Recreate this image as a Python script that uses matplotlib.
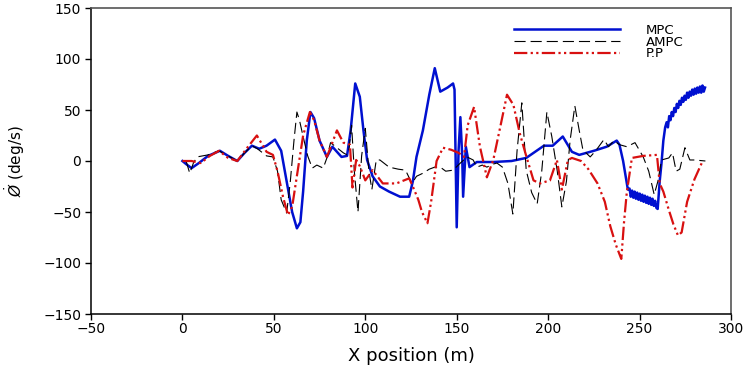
import numpy as np
import matplotlib.pyplot as plt

# MPC (blue solid)
mpc_x = [0, 2, 5, 9, 14, 20.5, 25, 30, 34, 38, 42, 46, 50.6, 54, 57, 60, 62.6, 64.5, 66, 68, 70, 72,
         75, 79, 82, 85, 87, 90, 92, 94.5, 97, 99, 101, 104, 108, 113, 119, 124, 126, 128, 131.5, 135,
         138, 141, 145, 148, 148.8, 150, 151, 152, 153, 153.5, 155, 157, 161, 170, 180, 188, 192, 197.7,
         202.5, 208, 213, 217, 225, 232, 237.5, 239, 241, 243.6,
         244.5, 245.2, 245.9, 246.6, 247.3, 248.0, 248.7, 249.4, 250.1, 250.8, 251.5, 252.2, 252.9,
         253.6, 254.3, 255.0, 255.7, 256.4, 257.1, 257.8, 258.5, 259.2, 259.9,
         261, 262, 263, 264,
         264.8, 265.5, 266.2, 266.9, 267.6, 268.3, 269.0, 269.7, 270.4, 271.1, 271.8, 272.5, 273.2,
         273.9, 274.6, 275.3, 276.0, 276.7, 277.4, 278.1, 278.8, 279.5, 280.2, 280.9, 281.6, 282.3,
         283.0, 283.7, 284.4, 285.1, 285.8]
mpc_y = [0, -3, -7, -2, 5, 10, 5, 0, 8, 15, 12, 15, 21, 10, -20, -50, -66, -60, -30, 20, 48, 42,
         20, 4, 14, 8, 4, 5, 30, 76, 63, 30, 1, -15, -25, -30, -35, -35, -20, 4, 30, 65,
         91, 68, 72, 76, 70, -65, 10, 43, 5, -35, 14, -6, -1, -1, 0, 3, 8, 15,
         15, 24, 9, 6, 10, 14, 20, 16, 0, -28,
         -27, -35, -29, -36, -30, -37, -31, -38, -32, -39, -33, -40, -34,
         -41, -35, -42, -36, -43, -37, -44, -39, -46, -47,
         -20, -2, 20, 33,
         38, 33, 44, 40, 48, 44, 52, 48, 56, 52, 59, 55, 62,
         58, 64, 60, 67, 62, 68, 64, 70, 65, 71, 66, 72, 67,
         73, 67, 74, 68, 72]

# AMPC (black dashed)
ampc_x = [2, 4, 6, 8, 14, 20, 25, 30, 34, 38, 41, 46, 49.5, 52, 54, 57, 59, 61, 62.6, 64, 66, 68.5,
          71, 73.5, 77, 79, 81, 84.5, 88, 90, 91, 92.5, 94, 96, 98, 100, 102, 103.6, 106, 108, 113,
          118, 122, 125.5, 128, 131.5, 135, 138, 141, 144, 148, 152, 155.6, 159, 161, 164, 166.5,
          170, 172, 175, 178, 180.7, 183, 185.6, 188, 191, 194, 196.5, 199.3, 202, 205, 207.5, 210,
          212, 214.6, 217, 219, 223, 226, 230.5, 233, 236, 239, 243, 247.5, 252, 255, 258, 260, 262,
          266, 268, 270, 272, 274.8, 277.5, 280, 286]
ampc_y = [0, -12, -2, 4, 6, 10, 5, 0, 8, 15, 12, 5, 4, -10, -38, -51, -20, 20, 48, 40, 24, 5,
          -7, -4, -7, 3, 18, 13, 8, 6, 10, 35, -10, -50, 5, 32, -10, -28, 1, 1, -6,
          -8, -9, -22, -15, -12, -8, -6, -6, -10, -9, -2, 4, 1, -6, -4, -6,
          -3, -2, -6, -22, -52, 10, 57, -9, -31, -42, -10, 48, 24, -10, -45, -20,
          20, 54, 30, 11, 4, 10, 21, 14, 20, 16, 14, 18, 4, -10, -33, -20, 1,
          3, 8, -10, -8, 13, 1, 1, 0]

# P.P (red dash-dot-dot)
pp_x = [0, 5, 10, 15, 20, 25, 30, 35, 40.7, 46, 49.5, 52, 55, 57.7, 60, 63, 66, 69.7, 72, 75, 79,
        82, 84.5, 88, 91.6, 93, 95, 97, 100, 104, 109.6, 117, 124, 126, 129, 131, 134, 136, 139,
        142.5, 147, 151, 154, 156, 159.5, 162.7, 166.5, 170, 174, 177.5, 181, 184.5, 188, 192,
        195.5, 201, 204.8, 207.5, 210.8, 213, 218, 222, 227, 231, 234, 237, 240, 241.5, 243, 245.8,
        252, 259.5, 261, 263, 266, 268.5, 271, 273, 276, 280, 284]
pp_y = [0, 0, -2, 5, 10, 3, 0, 12, 25, 9, 6, -10, -35, -53, -45, -10, 25, 48, 40, 20, 4,
        18, 30, 18, 16, -26, 1, -5, -19, -9, -22, -22, -17, -25, -38, -50, -61, -40, 0,
        13, 11, 8, 4, 35, 53, 14, -16, 1, 35, 65, 55, 27, 5, -19,
        -22, -19, 1, -28, 1, 3, 0, -8, -22, -40, -64, -82, -96, -60, -31, 3,
        5, 6, -22, -30, -48, -62, -73, -70, -40, -18, -2]

fig = plt.figure(figsize=(7.54, 3.68), dpi=100)
ax = fig.add_axes([91 / 754, 1 - 314 / 368, 640 / 754, 306 / 368])

ax.plot(mpc_x, mpc_y, color='#0010d0', lw=1.8, label='MPC')
ax.plot(ampc_x, ampc_y, color='black', lw=0.8, dashes=(10, 4.5), label='AMPC')
ax.plot(pp_x, pp_y, color='#d81010', lw=1.6, dashes=(6, 1.5, 1, 1.5, 1, 1.5), label='P.P')

ax.set_xlim(-50, 300)
ax.set_ylim(-150, 150)
ax.set_xticks(np.arange(-50, 301, 50))
ax.set_yticks(np.arange(-150, 151, 50))
ax.tick_params(direction='out', length=4, width=1, labelsize=10, top=False, right=False)
ax.tick_params(axis='x', pad=2)
ax.tick_params(axis='y', pad=3)

for s in ['left', 'bottom']:
    ax.spines[s].set_color('black')
    ax.spines[s].set_linewidth(1.1)
for s in ['top', 'right']:
    ax.spines[s].set_color('#555555')
    ax.spines[s].set_linewidth(1.2)

ax.set_xlabel('X position (m)', fontsize=13, labelpad=8)
ax.set_ylabel(r'$\dot{\O}$ (deg/s)', fontsize=11, labelpad=12)

ax.legend(loc='upper left', bbox_to_anchor=(514 / 754, 1 - 24 / 368), bbox_transform=fig.transFigure,
          frameon=False, fontsize=9.5, handlelength=8.0, handletextpad=2.0, labelspacing=-0.1,
          borderpad=0, borderaxespad=0)

fig.savefig('out.png', dpi=100)
